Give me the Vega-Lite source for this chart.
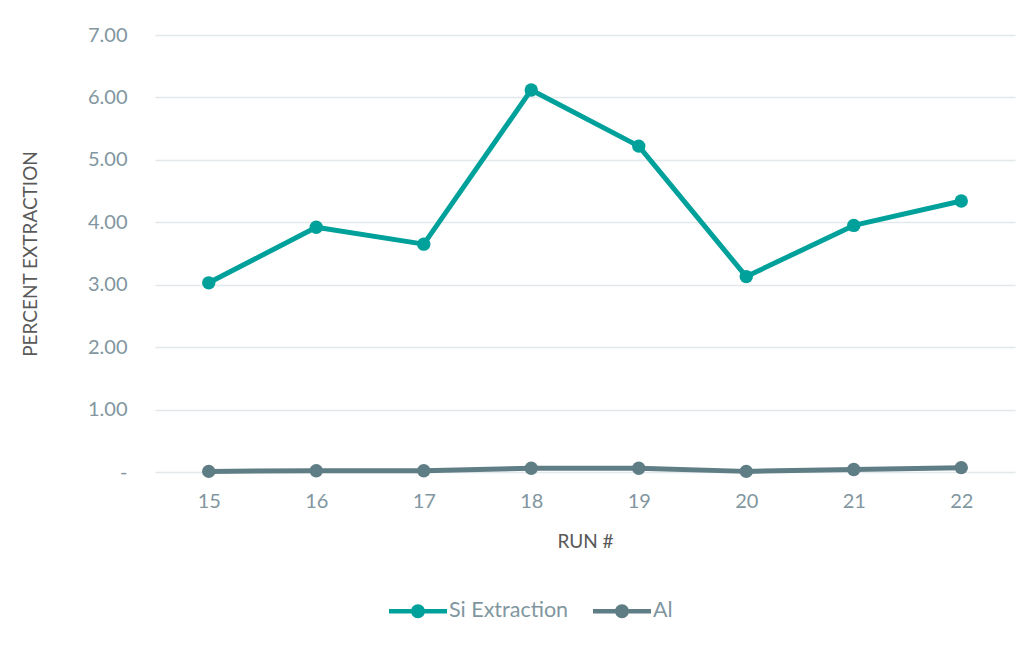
{
  "$schema": "https://vega.github.io/schema/vega-lite/v6.json",
  "width": 860,
  "height": 437,
  "autosize": {"type": "none"},
  "padding": {"left": 155, "top": 35, "right": 17, "bottom": 173},
  "background": "white",
  "config": {
    "view": {"stroke": null},
    "font": "Lato"
  },
  "data": {
    "values": [
      {"run": "15", "series": "Si Extraction", "value": 3.03},
      {"run": "16", "series": "Si Extraction", "value": 3.92},
      {"run": "17", "series": "Si Extraction", "value": 3.65},
      {"run": "18", "series": "Si Extraction", "value": 6.12},
      {"run": "19", "series": "Si Extraction", "value": 5.22},
      {"run": "20", "series": "Si Extraction", "value": 3.13},
      {"run": "21", "series": "Si Extraction", "value": 3.95},
      {"run": "22", "series": "Si Extraction", "value": 4.34},
      {"run": "15", "series": "Al", "value": 0.01},
      {"run": "16", "series": "Al", "value": 0.02},
      {"run": "17", "series": "Al", "value": 0.02},
      {"run": "18", "series": "Al", "value": 0.06},
      {"run": "19", "series": "Al", "value": 0.06},
      {"run": "20", "series": "Al", "value": 0.01},
      {"run": "21", "series": "Al", "value": 0.04},
      {"run": "22", "series": "Al", "value": 0.07}
    ]
  },
  "encoding": {
    "x": {
      "field": "run",
      "type": "ordinal",
      "scale": {"type": "point", "padding": 0.5},
      "axis": {
        "title": "RUN #",
        "labelAngle": 0,
        "domain": false,
        "ticks": false,
        "grid": false,
        "labelFont": "Lato",
        "labelFontSize": 20,
        "labelColor": "#8196a0",
        "labelPadding": 19,
        "titleFont": "Lato",
        "titleFontSize": 19,
        "titleFontWeight": "normal",
        "titleColor": "#595959",
        "titleY": 69,
        "titleBaseline": "middle"
      }
    },
    "y": {
      "field": "value",
      "type": "quantitative",
      "scale": {"domain": [0, 7], "nice": false, "zero": true},
      "axis": {
        "title": "PERCENT EXTRACTION",
        "values": [0, 1, 2, 3, 4, 5, 6, 7],
        "format": ".2f",
        "labelExpr": "datum.value == 0 ? '-      ' : datum.label",
        "domain": false,
        "ticks": false,
        "grid": true,
        "gridColor": "#e3e8ea",
        "gridWidth": 1.5,
        "labelFont": "Lato",
        "labelFontSize": 20,
        "labelColor": "#8196a0",
        "labelPadding": 28,
        "titleFont": "Lato",
        "titleFontSize": 19,
        "titleFontWeight": "normal",
        "titleColor": "#595959",
        "titleX": -125,
        "titleBaseline": "middle"
      }
    },
    "color": {
      "field": "series",
      "type": "nominal",
      "scale": {"domain": ["Si Extraction", "Al"], "range": ["#00a19b", "#5f7d85"]},
      "legend": {
        "title": null,
        "orient": "none",
        "direction": "horizontal",
        "legendX": 251,
        "legendY": 564,
        "symbolType": "M-2.5,-0.2H2.5V0.2H-2.5Z M-0.6,0A0.6,0.6 0 1,1 0.6,0A0.6,0.6 0 1,1 -0.6,0Z",
        "symbolSize": 538,
        "symbolStrokeWidth": 0,
        "symbolOpacity": 1,
        "labelFont": "Lato",
        "labelFontSize": 21.5,
        "labelColor": "#8196a0",
        "labelOffset": 19,
        "columnPadding": 24
      }
    }
  },
  "layer": [
    {
      "mark": {"type": "line", "strokeWidth": 5, "strokeCap": "round", "strokeJoin": "round"}
    },
    {
      "mark": {"type": "point", "filled": true, "size": 180, "opacity": 1}
    }
  ]
}
